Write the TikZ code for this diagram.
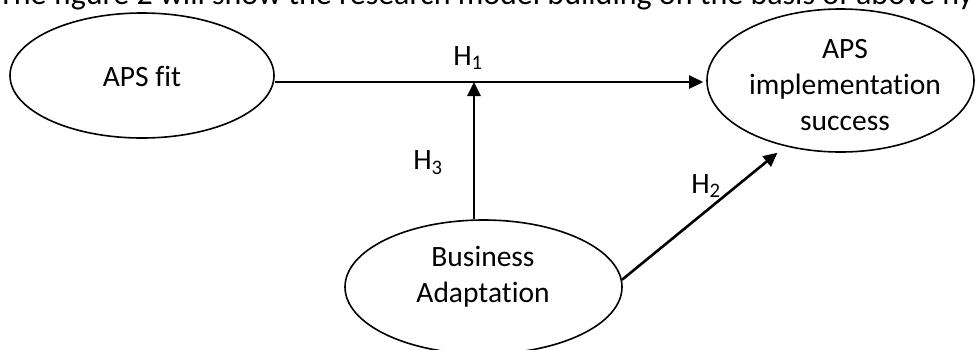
\documentclass[tikz,border=0pt]{standalone}
\usepackage{fontspec}
\setmainfont[Ligatures=NoCommon]{Carlito}
\usetikzlibrary{shapes.geometric,arrows.meta}
\begin{document}
\begin{tikzpicture}[x=1pt,y=-1pt,
  oval/.style={draw,ellipse,line width=1.6pt,inner sep=0pt},
  txt/.style={font=\fontsize{29.5}{36}\selectfont,align=center,inner sep=0pt},
  arr/.style={line width=2.6pt,-{Triangle[length=14pt,width=13pt]}},
  hlab/.style={font=\fontsize{29.5}{34}\selectfont,inner sep=0pt}]
\useasboundingbox (0,0) rectangle (975,349);
\clip (0,0) rectangle (975,349);
\node[font=\fontsize{32}{38}\selectfont,anchor=base west,inner sep=0pt] (cap) at (-2,4)
  {The figure 2 will show the research model building on the basis of above hypotheses};
\node[oval,minimum width=264pt,minimum height=125pt] (fit) at (142,75.5) {};
\node[txt] (fittxt) at (142,76) {APS fit};
\node[oval,minimum width=267pt,minimum height=143pt] (succ) at (840.5,80.5) {};
\node[txt] (succtxt) at (845,85) {APS\\implementation\\success};
\node[oval,minimum width=277pt,minimum height=134pt] (ba) at (483.5,287) {};
\node[txt] (batxt) at (483,277) {Business\\Adaptation};
\coordinate (j) at (474,82);
\draw[arr] ([yshift=-6.5pt]fit.east) -- ([yshift=-6.5pt,xshift=-3pt]fit.east -| succ.west);
\draw[arr] (j |- ba.north) -- (j);
\draw[arr,shorten >=10pt] (ba.3) -- (succ.230);
\node[hlab] (h1) at (468,58) {H\textsubscript{1}};
\node[hlab] (h3) at (428,163) {H\textsubscript{3}};
\node[hlab] (h2) at (706,186) {H\textsubscript{2}};
\end{tikzpicture}
\end{document}
